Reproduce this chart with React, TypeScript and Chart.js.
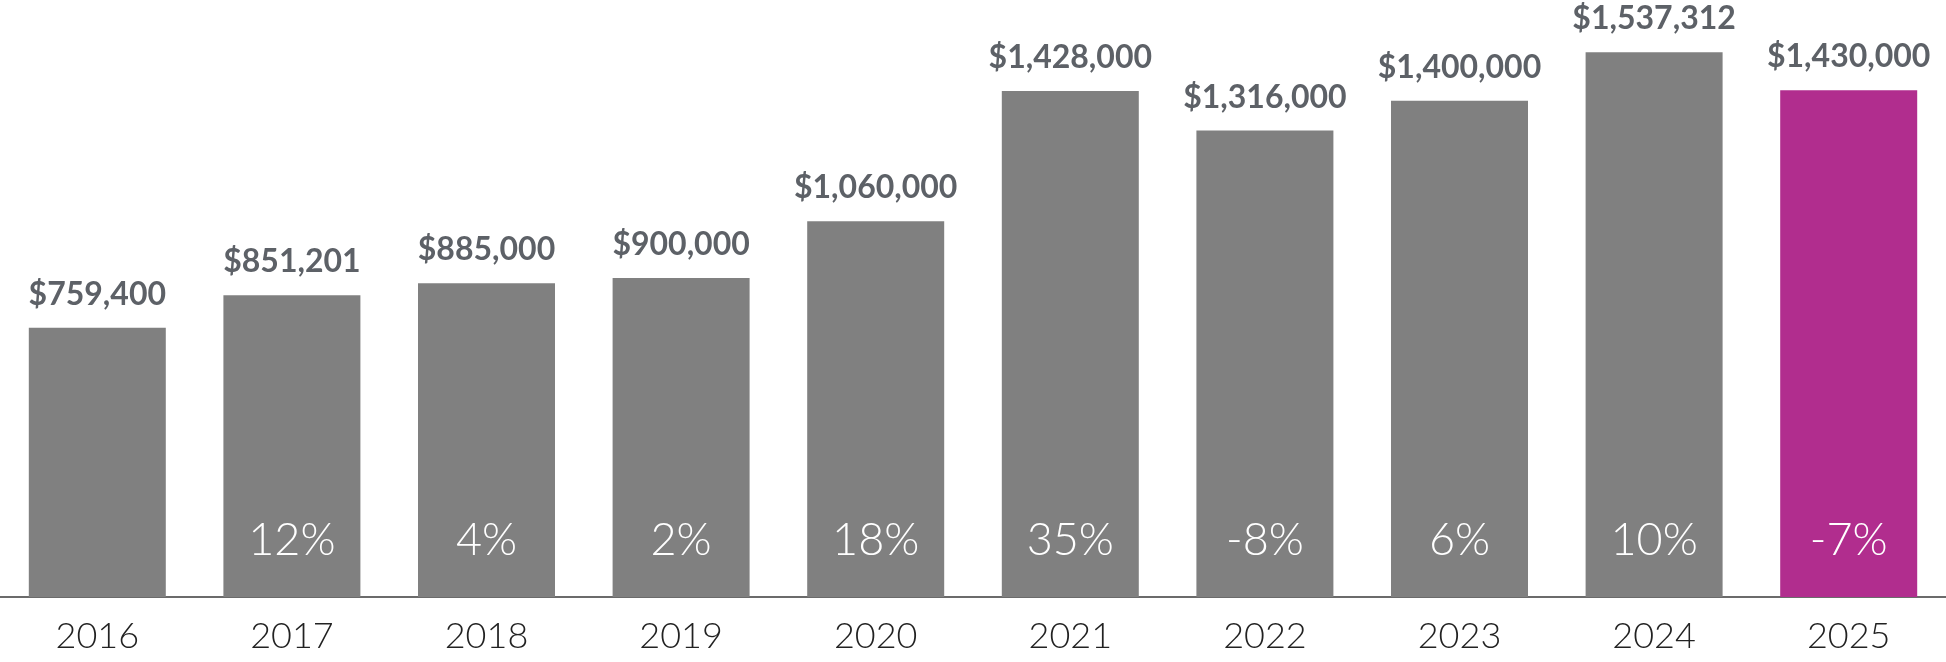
import React, { useEffect, useRef } from "react";
import { Chart, registerables } from "chart.js";

Chart.register(...registerables);

const years = ["2016", "2017", "2018", "2019", "2020", "2021", "2022", "2023", "2024", "2025"];
const medianPrices = [759400, 851201, 885000, 900000, 1060000, 1428000, 1316000, 1400000, 1537312, 1430000];
const changeLabels = ["", "12%", "4%", "2%", "18%", "35%", "-8%", "6%", "10%", "-7%"];
const barColors = ["#808080", "#808080", "#808080", "#808080", "#808080", "#808080", "#808080", "#808080", "#808080", "#B12D8E"];

const fmt = (v: number) => "$" + v.toLocaleString("en-US");

const labelPlugin = {
  id: "barLabels",
  afterDatasetsDraw(chart: any) {
    const ctx = chart.ctx;
    const meta = chart.getDatasetMeta(0);
    ctx.save();
    meta.data.forEach((bar: any, i: number) => {
      ctx.textAlign = "center";
      ctx.textBaseline = "alphabetic";
      ctx.fillStyle = "#5d6167";
      ctx.font = "bold 32px Lato";
      ctx.fillText(fmt(medianPrices[i]), bar.x, bar.y - 23);
      if (changeLabels[i]) {
        ctx.fillStyle = "#ffffff";
        ctx.font = "300 45px Lato";
        ctx.fillText(changeLabels[i], bar.x, chart.chartArea.bottom - 42);
      }
    });
    ctx.restore();
  },
};

export default function App() {
  const ref = useRef<HTMLCanvasElement | null>(null);
  useEffect(() => {
    if (!ref.current) return;
    const chart = new Chart(ref.current, {
      type: "bar",
      data: {
        labels: years,
        datasets: [
          {
            data: medianPrices,
            backgroundColor: barColors,
            borderWidth: 0,
            categoryPercentage: 1,
            barPercentage: 0.704,
          },
        ],
      },
      options: {
        animation: false,
        responsive: false,
        maintainAspectRatio: false,
        layout: { padding: { top: 0, left: 0, right: 0, bottom: 0 } },
        plugins: { legend: { display: false }, tooltip: { enabled: false } },
        scales: {
          x: {
            grid: { display: false, drawTicks: false },
            border: { display: true, color: "#6b6b6b", width: 2 },
            ticks: {
              color: "#222222",
              font: { family: "Lato", size: 36, weight: 300 },
              padding: 18,
              maxRotation: 0,
            },
            afterFit: (scale: any) => {
              scale.height = 65;
            },
          },
          y: {
            display: false,
            min: 0,
            max: 1684500,
          },
        },
      },
      plugins: [labelPlugin],
    });
    return () => chart.destroy();
  }, []);
  return (
    <div style={{ position: "fixed", left: 0, top: 0, width: 1946, height: 662, background: "#fff" }}>
      <canvas ref={ref} width={1946} height={662} style={{ display: "block", width: 1946, height: 662 }} />
    </div>
  );
}
